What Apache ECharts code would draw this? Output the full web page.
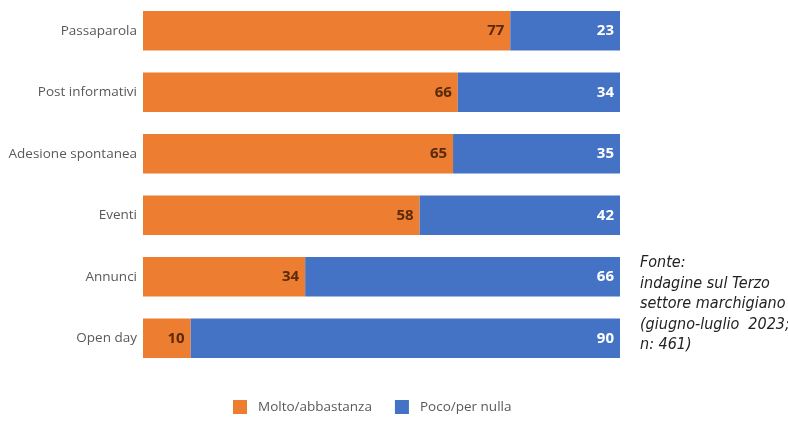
<!DOCTYPE html>
<html><head><meta charset="utf-8">
<script src="https://cdn.jsdelivr.net/npm/echarts@6/dist/echarts.min.js"></script>
<style>html,body{margin:0;padding:0;background:#fff}#c{width:788px;height:422px}</style>
</head><body><div id="c"></div>
<script>
const categories = ["Passaparola","Post informativi","Adesione spontanea","Eventi","Annunci","Open day"];
const molto = [77,66,65,58,34,10];
const poco = [23,34,35,42,66,90];
const seriesNames = ["Molto/abbastanza","Poco/per nulla"];
const sourceLines = ["Fonte:","indagine sul Terzo","settore marchigiano","(giugno-luglio  2023;","n: 461)"];

const chart = echarts.init(document.getElementById('c'));
chart.setOption({
  animation:false,
  grid:{left:143,right:168,top:-3,bottom:53},
  xAxis:{type:'value',min:0,max:100,show:false},
  yAxis:{type:'category',data:categories,inverse:true,
    axisLine:{show:false},axisTick:{show:false},
    axisLabel:{color:'#595959',fontSize:13.5,fontFamily:'Open Sans',margin:6}},
  legend:{top:400,left:233,padding:0,itemWidth:14,itemHeight:14,itemGap:23,icon:'rect',
    textStyle:{color:'#595959',fontSize:13.5,fontFamily:'Open Sans',padding:[0,0,0,6]}},
  series:[
    {name:seriesNames[0],type:'bar',stack:'s',data:molto,barCategoryGap:'36%',
     itemStyle:{color:'#ED7D31'},
     label:{show:true,position:'insideRight',color:'#5a2a0a',fontWeight:'bold',fontSize:15,fontFamily:'Open Sans',distance:6}},
    {name:seriesNames[1],type:'bar',stack:'s',data:poco,
     itemStyle:{color:'#4472C4'},
     label:{show:true,position:'insideRight',color:'#ffffff',fontWeight:'bold',fontSize:15,fontFamily:'Open Sans',distance:6}}
  ],
  graphic:[{type:'text',left:640,top:253,style:{text:sourceLines.join('\n'),
    font:'italic 16px "Liberation Sans Narrow", "DejaVu Sans Condensed", sans-serif',
    lineHeight:20.5,fill:'#222'}}]
});
</script></body></html>
